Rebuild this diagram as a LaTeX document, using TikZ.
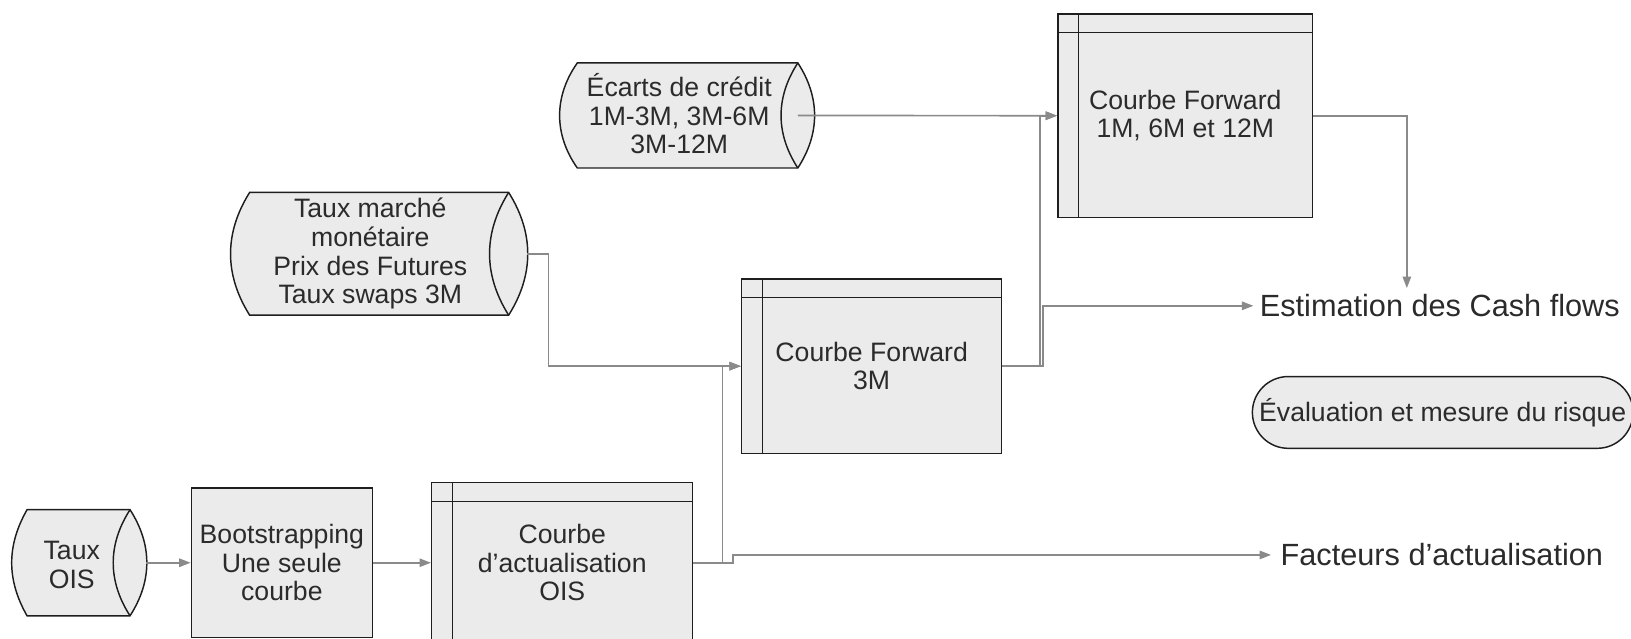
\documentclass[tikz,border=0pt]{standalone}
\usepackage{fontspec}
\setmainfont{Liberation Sans}
\usetikzlibrary{arrows.meta,calc}
\definecolor{boxfill}{HTML}{EBEBEB}
\definecolor{edgecol}{HTML}{1E1E1E}
\definecolor{conncol}{HTML}{8A8A8A}
\definecolor{txtcol}{HTML}{2B2B2B}
\tikzset{
  shapebox/.style={draw=edgecol, fill=boxfill, line width=1.4pt, inner sep=0pt,
    text=txtcol, align=center, font=\fontsize{25.6}{27.5}\selectfont},
  storebox/.style={shapebox, path picture={
    \draw[draw=edgecol,line width=1.4pt]
      ([yshift=-18pt]path picture bounding box.north west) -- ([yshift=-18pt]path picture bounding box.north east)
      ([xshift=20pt]path picture bounding box.north west) -- ([xshift=20pt]path picture bounding box.south west);}},
  cylfill/.style={fill=boxfill},
  cylline/.style={draw=edgecol, line width=1.4pt},
  cyltext/.style={inner sep=0pt, text=txtcol, align=center, font=\fontsize{25.6}{27.5}\selectfont},
  lbl/.style={inner ysep=0pt, text=txtcol, font=\fontsize{29.5}{32}\selectfont},
  conn/.style={draw=conncol, line width=1.6pt, -{Triangle[length=11pt,width=8pt]}}
}
% #1 name, #2 left x, #3 right x (outer), #4 top y, #5 bottom y (downwards positive), #6 cap, #7 lens half width
\newcommand\mycyl[7]{%
  \pgfmathsetmacro\cxa{#2+#6}%
  \pgfmathsetmacro\cxb{#3-#7}%
  \pgfmathsetmacro\cym{-(#4+#5)/2}%
  \pgfmathsetmacro\chh{(#5-#4)/2}%
  \pgfmathsetmacro\bc{2*atan(#6/\chh)}%
  \pgfmathsetmacro\br{2*atan(#7/\chh)}%
  \path[cylfill] (\cxa,-#4) -- (\cxb,-#4) to[bend left=\br] (\cxb,-#5)
     -- (\cxa,-#5) to[bend left=\bc] (\cxa,-#4) -- cycle;
  \draw[cylline] (\cxa,-#4) -- (\cxb,-#4) to[bend left=\br] (\cxb,-#5)
     -- (\cxa,-#5) to[bend left=\bc] (\cxa,-#4) -- cycle;
  \draw[cylline] (\cxb,-#4) to[bend right=\br] (\cxb,-#5);
  \node[inner sep=0pt, minimum width={#3-#2}, minimum height={#5-#4}] (#1) at ({(#2+#3)/2},\cym) {};
  \coordinate (#1-c) at (\cxb,\cym);
}
\begin{document}
\begin{tikzpicture}[x=1pt,y=1pt]
\useasboundingbox (0,0) rectangle (1568,-614);

% cylinders (data sources)
\mycyl{tois}{12.5}{140}{490}{592}{13.5}{15}
\node[cyltext] (tois-t) at (69,-543) {Taux\\OIS};

\mycyl{tmm}{223}{506}{185}{303}{17}{17}
\node[cyltext] (tmm-t) at (356,-244) {Taux marché\\monétaire\\Prix des Futures\\Taux swaps 3M};

\mycyl{ecarts}{539}{782}{60.5}{161.5}{16}{15}
\node[cyltext] (ecarts-t) at (653,-109.5) {Écarts de crédit\\1M-3M, 3M-6M\\3M-12M};

% process boxes
\node[shapebox, minimum width=174, minimum height=144] (boot) at (271,-541)
  {Bootstrapping\\Une seule\\courbe};
\node[storebox, minimum width=251, minimum height=154] (cois) at (540.5,-541)
  {Courbe\\d’actualisation\\OIS};
\node[storebox, minimum width=250, minimum height=168] (cf3) at (838,-352)
  {Courbe Forward\\3M};
\node[storebox, minimum width=245, minimum height=195.5] (cf1) at (1139.5,-111.25)
  {Courbe Forward\\1M, 6M et 12M};

% outputs
\node[lbl, anchor=west, inner xsep=6pt] (estim) at (1205,-294) {Estimation des Cash flows};
\node[lbl, anchor=west, inner xsep=9pt] (fact) at (1222,-533.5) {Facteurs d’actualisation};
\node[shapebox, rounded corners=34.5pt, minimum width=366, minimum height=69] (eval) at (1387,-396.5)
  {Évaluation et mesure du risque};
\coordinate (estim-top) at (1352.5,-277);

% connectors
\draw[conn] (tois.east) -- (boot.west);
\draw[conn] (boot.east) -- (cois.west);
\draw[conn] (cois.east) -- ++(28,0) |- (cf3.west);
\draw[conn] (cois.east) -- ++(38,0) -- ++(0,7.5) -- (fact.west);
\draw[conn] (tmm.east) -- ++(21,0) |- (cf3.west);
\draw[conn] (ecarts-c) -- (cf1.west);
\draw[conn] (cf3.east) -- ++(36,0) |- (cf1.west);
\draw[conn] (cf3.east) -- ++(39,0) |- (estim.west);
\draw[conn] (cf1.east) -| (estim-top);
\end{tikzpicture}
\end{document}
